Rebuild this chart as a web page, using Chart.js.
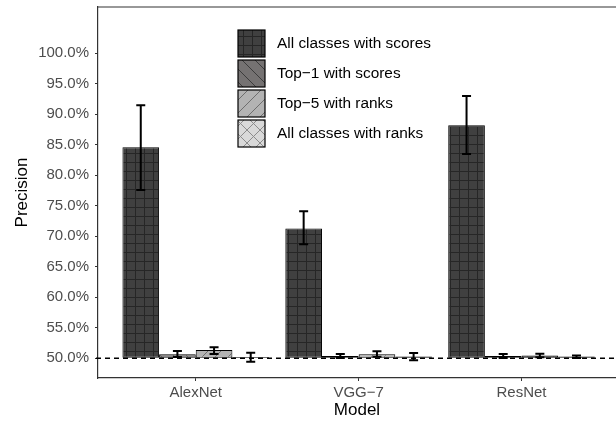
<!DOCTYPE html>
<html>
<head>
<meta charset="utf-8">
<script src="https://cdn.jsdelivr.net/npm/chart.js@4.4.1/dist/chart.umd.min.js"></script>
<style>
    body { margin: 0; background: #fff; }
    canvas { display: block; }
</style>
</head>
<body>
<canvas id="chart" width="616" height="423"></canvas>
<script>
const categories = ['AlexNet', 'VGG\u22127', 'ResNet'];
const seriesNames = ['All classes with scores', 'Top\u22121 with scores', 'Top\u22125 with ranks', 'All classes with ranks'];

// mean precision per model, in percent
const allScores = [84.6, 71.3, 88.2];
const top1Scores = [50.65, 50.38, 50.38];
const top5Ranks = [51.36, 50.65, 50.45];
const allRanks = [50.2, 50.3, 50.3];

// error bar ends
const allScoresLow = [77.6, 68.7, 83.5];
const allScoresHigh = [91.5, 74.1, 93.0];
const top1Low = [50.2, 50.05, 50.05];
const top1High = [51.2, 50.7, 50.7];
const top5Low = [50.7, 50.26, 50.16];
const top5High = [51.8, 51.15, 50.75];
const allRanksLow = [49.45, 49.67, 50.05];
const allRanksHigh = [50.9, 50.87, 50.45];

const yTicks = [50, 55, 60, 65, 70, 75, 80, 85, 90, 95, 100];
const baseline = 50;

const seriesValues = [allScores, top1Scores, top5Ranks, allRanks];
const seriesLow = [allScoresLow, top1Low, top5Low, allRanksLow];
const seriesHigh = [allScoresHigh, top1High, top5High, allRanksHigh];

function makePattern(bg, line, kind) {
    const s = kind === 'grid' ? 9 : 13;
    const c = document.createElement('canvas');
    c.width = s;
    c.height = s;
    const g = c.getContext('2d');
    g.fillStyle = bg;
    g.fillRect(0, 0, s, s);
    g.strokeStyle = line;
    g.lineWidth = 1;
    g.beginPath();
    if (kind === 'grid') {
        g.moveTo(0.5, 0); g.lineTo(0.5, s);
        g.moveTo(0, 0.5); g.lineTo(s, 0.5);
    }
    if (kind === 'back' || kind === 'cross') {
        for (const k of [-s, 0, s]) { g.moveTo(k, 0); g.lineTo(k + s, s); }
    }
    if (kind === 'fwd' || kind === 'cross') {
        for (const k of [-s, 0, s]) { g.moveTo(k, s); g.lineTo(k + s, 0); }
    }
    g.stroke();
    return document.getElementById('chart').getContext('2d').createPattern(c, 'repeat');
}

const fills = [
    makePattern('#404040', '#262626', 'grid'),
    makePattern('#757272', '#3c3c3c', 'back'),
    makePattern('#b3b3b3', '#6e6e6e', 'fwd'),
    makePattern('#d9d9d9', '#8c8c8c', 'cross')
];

Chart.defaults.font.family = '"Liberation Sans", Arial, sans-serif';

const extras = {
    id: 'extras',
    afterDatasetsDraw(chart) {
        const ctx = chart.ctx;
        const area = chart.chartArea;
        const y = chart.scales.y;
        ctx.save();

        // reference line
        const y0 = y.getPixelForValue(baseline);
        ctx.strokeStyle = '#000';
        ctx.lineWidth = 1.5;
        ctx.setLineDash([5, 4]);
        ctx.beginPath();
        ctx.moveTo(area.left - 2, y0);
        ctx.lineTo(area.right, y0);
        ctx.stroke();
        ctx.setLineDash([]);

        // error bars
        ctx.lineWidth = 2;
        chart.data.datasets.forEach((ds, i) => {
            chart.getDatasetMeta(i).data.forEach((bar, j) => {
                const lo = y.getPixelForValue(seriesLow[i][j]);
                const hi = y.getPixelForValue(seriesHigh[i][j]);
                ctx.beginPath();
                ctx.moveTo(bar.x, lo); ctx.lineTo(bar.x, hi);
                ctx.moveTo(bar.x - 4.5, lo); ctx.lineTo(bar.x + 4.5, lo);
                ctx.moveTo(bar.x - 4.5, hi); ctx.lineTo(bar.x + 4.5, hi);
                ctx.stroke();
            });
        });

        // top frame line
        ctx.strokeStyle = '#333';
        ctx.lineWidth = 1.2;
        ctx.beginPath();
        ctx.moveTo(area.left, area.top);
        ctx.lineTo(area.right, area.top);
        ctx.stroke();
        ctx.restore();
    },
    afterDraw(chart) {
        const ctx = chart.ctx;
        ctx.save();
        ctx.font = '15.4px "Liberation Sans", Arial, sans-serif';
        ctx.textBaseline = 'middle';
        chart.data.datasets.forEach((ds, i) => {
            const top = 30 + i * 30;
            ctx.fillStyle = ds.backgroundColor;
            ctx.fillRect(238, top, 27, 27);
            ctx.strokeStyle = '#000';
            ctx.lineWidth = 1.2;
            ctx.strokeRect(238, top, 27, 27);
            ctx.fillStyle = '#000';
            ctx.fillText(ds.label, 277, top + 14);
        });
        ctx.restore();
    }
};

new Chart(document.getElementById('chart'), {
    type: 'bar',
    data: {
        datasets: seriesNames.map((name, i) => ({
            label: name,
            data: categories.map((c, j) => ({ x: j + 1, y: seriesValues[i][j] })),
            base: baseline,
            backgroundColor: fills[i],
            borderColor: '#000',
            borderWidth: 1,
            borderSkipped: false,
            categoryPercentage: 0.9,
            barPercentage: 1
        }))
    },
    options: {
        responsive: false,
        animation: false,
        layout: { padding: { top: 7, right: 0, left: 0, bottom: 0 } },
        plugins: {
            legend: { display: false },
            tooltip: { enabled: false }
        },
        scales: {
            x: {
                type: 'linear',
                offset: false,
                min: 0.4,
                max: 3.58,
                afterBuildTicks: s => { s.ticks = categories.map((c, j) => ({ value: j + 1 })); },
                afterFit: s => { s.height = 45; s.paddingLeft = 0; s.paddingRight = 0; },
                ticks: {
                    callback: v => categories[Math.round(v) - 1],
                    color: '#4d4d4d',
                    font: { size: 15 },
                    padding: 3,
                    maxRotation: 0,
                    autoSkip: false
                },
                grid: { offset: false, drawOnChartArea: false, drawTicks: true, tickLength: 3, color: '#333' },
                border: { display: true, color: '#333', width: 1.2 },
                title: { display: true, text: 'Model', color: '#000', font: { size: 17 }, padding: { top: 0, bottom: 2 } }
            },
            y: {
                min: 46.77,
                max: 107.6,
                afterBuildTicks: s => { s.ticks = yTicks.map(v => ({ value: v })); },
                afterFit: s => { s.width = 98; s.paddingTop = 0; s.paddingBottom = 0; },
                ticks: {
                    callback: v => v.toFixed(1) + '%',
                    color: '#4d4d4d',
                    font: { size: 15 },
                    padding: 6
                },
                grid: { drawOnChartArea: false, drawTicks: true, tickLength: 3, color: '#333' },
                border: { display: true, color: '#333', width: 1.2 },
                title: { display: true, text: 'Precision', color: '#000', font: { size: 17 }, padding: { top: 12, bottom: 0 } }
            }
        }
    },
    plugins: [extras]
});
</script>
</body>
</html>
